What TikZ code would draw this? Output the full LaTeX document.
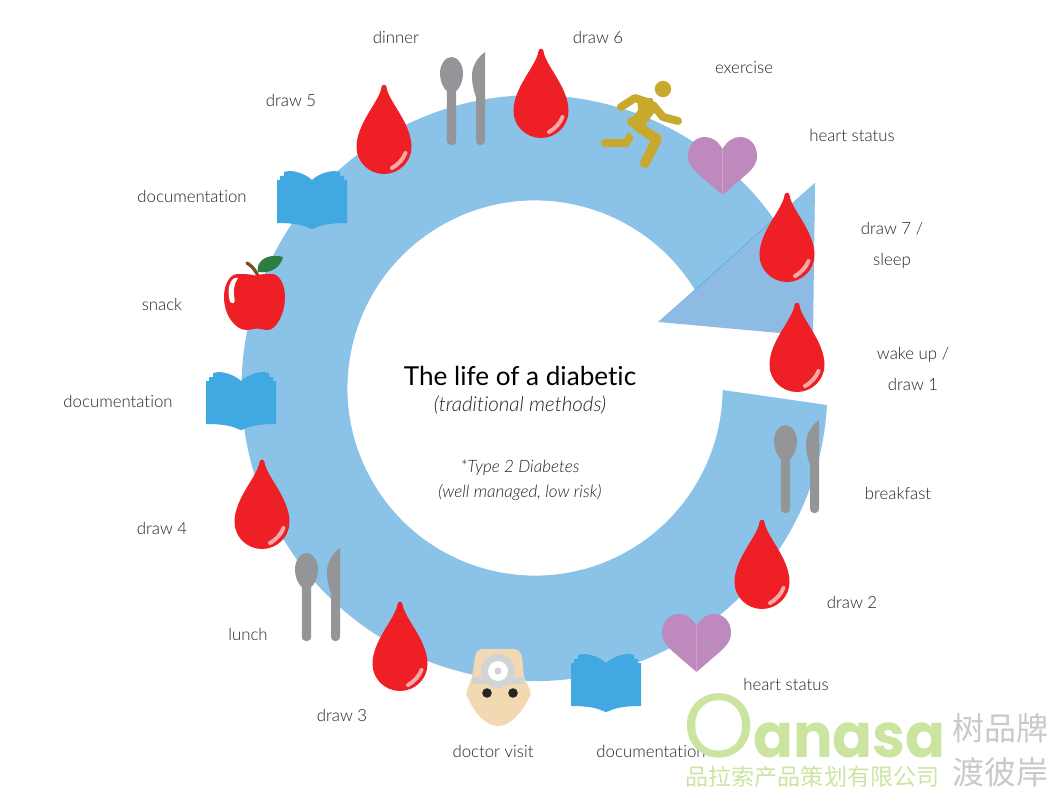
\documentclass[tikz,border=0pt]{standalone}
\usepackage{fontspec}
\setmainfont{Lato}[UprightFont=* Light,ItalicFont=* Light Italic,Ligatures=NoCommon]
\newfontfamily\titlefont{Lato}[Ligatures=NoCommon]
\newfontfamily\logofont{Poppins}
\newfontfamily\cjkfont{Noto Sans CJK SC}
\definecolor{ringblue}{HTML}{8AC2E8}
\definecolor{headblue}{HTML}{8DBBE4}
\definecolor{seamblue}{HTML}{63B0E0}
\definecolor{dropred}{HTML}{EE1F25}
\definecolor{shinered}{HTML}{F6A9AB}
\definecolor{heartpink}{HTML}{BE89BC}
\definecolor{heartseam}{HTML}{CDA3CC}
\definecolor{bookblue}{HTML}{41A9E1}
\definecolor{cutlerygrey}{HTML}{939598}
\definecolor{runnergold}{HTML}{C9A92D}
\definecolor{facetan}{HTML}{F3D9B1}
\definecolor{mirrorgrey}{HTML}{D1D3D4}
\definecolor{leafgreen}{HTML}{2B7E3F}
\definecolor{stembrown}{HTML}{7B4F1E}
\definecolor{logogreen}{HTML}{CBE5A0}
\definecolor{logogrey}{HTML}{C9C9C9}
\definecolor{labelgrey}{HTML}{222222}
\tikzset{
  lbl/.style={text=labelgrey,font=\fontsize{12.6}{23}\selectfont,align=center,inner sep=0pt},
  blooddrop/.pic={
    \fill[dropred] (-2.5,2) .. controls (-4,16) and (-27.5,38) .. (-27.5,62)
      .. controls (-27.5,77) and (-15,89) .. (0,89)
      .. controls (15,89) and (27.5,77) .. (27.5,62)
      .. controls (27.5,38) and (4,16) .. (2.5,2)
      .. controls (2,-1) and (-2,-1) .. cycle;
    \draw[shinered,line width=3pt,line cap=round] (21.5,68) .. controls (19,74) and (15,79) .. (8,83);
  },
  hearticon/.pic={
    \fill[heartpink] (34.5,12) .. controls (30,4) and (24,0) .. (17,0)
      .. controls (7,0) and (0,8) .. (0,19) .. controls (0,27) and (5,32) .. (9,36)
      -- (34.5,58) -- (60,36) .. controls (64,32) and (69,27) .. (69,19)
      .. controls (69,8) and (62,0) .. (52,0) .. controls (45,0) and (39,4) .. (34.5,12) -- cycle;
    \draw[heartseam,line width=0.4pt] (34.5,12) -- (34.5,58);
  },
  bookicon/.pic={
    \fill[bookblue] (0,52) -- (0,9) -- (3,9) -- (3,5) -- (7,5) -- (7,1) -- (12,0)
      .. controls (20,0) and (30,4) .. (35,9) .. controls (40,4) and (50,0) .. (58,0)
      -- (63,1) -- (63,5) -- (67,5) -- (67,9) -- (70,9) -- (70,52)
      .. controls (58,52) and (46,53) .. (38,57) -- (35,58) -- (32,57)
      .. controls (24,53) and (12,52) .. (0,52) -- cycle;
  },
  cutlery/.pic={
    \fill[cutlerygrey] (10.5,5) .. controls (17,5) and (22,13) .. (22,21)
      .. controls (22,30) and (18,37) .. (15.2,39) -- (15.2,88)
      .. controls (15.2,95) and (5.8,95) .. (5.8,88) -- (5.8,39)
      .. controls (3,37) and (-1,30) .. (-1,21) .. controls (-1,13) and (4,5) .. (10.5,5) -- cycle;
    \fill[cutlerygrey] (44,0) .. controls (36,6) and (31,14) .. (31,24)
      .. controls (31,32) and (33,40) .. (35,45) -- (35,88)
      .. controls (35,95) and (44,95) .. (44,88) -- cycle;
  }
}
\begin{document}
\begin{tikzpicture}[x=0.75pt,y=-0.75pt]
  \useasboundingbox (0,0) rectangle (1050,788);
  % ring and arrow head
  \coordinate (headtop) at (815,183);
  \coordinate (headtip) at (658,322);
  \coordinate (headlow) at (813,336);
  \fill[ringblue] (827,405) arc[start angle=3.3,end angle=325,radius=293] -- (695,290)
    arc[start angle=328.5,end angle=0.6,radius=187.6] -- cycle;
  \fill[headblue] (headtop) -- (headtip) -- (headlow) -- cycle;
  \fill[ringblue] (773,220) -- (headtop) -- (813,260) -- cycle;
  \draw[seamblue,line width=0.6pt] (695,290) -- (773,220);
  % drops
  \foreach \x/\y in {384/85,541/49,787/193,797/303,762/520,400/602,262/460}
    \pic at (\x,\y) {blooddrop};
  % hearts, books, cutlery
  \foreach \x/\y in {688/137,662/614}
    \pic at (\x,\y) {hearticon};
  \foreach \x/\y in {277/171,206/372,571/654}
    \pic at (\x,\y) {bookicon};
  \foreach \x/\y in {441/52,775/420,296/548}
    \pic at (\x,\y) {cutlery};
  % runner
  \fill[runnergold] (663,89) circle (8.2);
  \begin{scope}[runnergold,line cap=round,line join=round]
    \draw[line width=11pt,line cap=butt] (650,106) -- (637,124);
    \draw[line width=6pt] (621,107) -- (635,98) -- (650,103);
    \draw[line width=6pt] (653,105) -- (663,117) -- (678,121);
    \draw[line width=7.5pt] (637,126) -- (657,139) -- (645,163);
    \draw[line width=6pt] (605,143) -- (626,143);
    \fill (624,139) -- (628,132) -- (634,138) -- (627,148) -- cycle;
    \fill (637,99) -- (652,98) -- (656,108) -- (640,125) -- cycle;
    \fill (632,122) circle (5);
  \end{scope}
  % apple
  \draw[stembrown,line width=2.5pt,line cap=round] (247,263) .. controls (252,266) and (256,271) .. (258,276);
  \fill[leafgreen] (258,272) .. controls (256,263) and (264,256) .. (274,256)
    .. controls (278,256) and (281,256) .. (283,257)
    .. controls (281,266) and (272,274) .. (258,272) -- cycle;
  \fill[dropred] (255,275.5) .. controls (250,274) and (243,274) .. (238,274)
    .. controls (230,274) and (224,284) .. (224,297)
    .. controls (224,316) and (236,330) .. (246,330) .. controls (251,330) and (254,328.5) .. (257,328.5)
    .. controls (260,328.5) and (263,330) .. (268,330) .. controls (276,330) and (285,314) .. (285,297)
    .. controls (285,284) and (279,274) .. (272,274)
    .. controls (266,274) and (260,274) .. (255,275.5) -- cycle;
  \fill[white] (238,278) .. controls (231,276) and (226,288) .. (230,302)
    .. controls (234,305) and (235,302) .. (234.5,299) .. controls (233,290) and (234,284) .. (238,278) -- cycle;
  % doctor
  \fill[facetan] (483,649) -- (513,649) .. controls (518,649) and (521,652) .. (522,657)
    -- (524,677) -- (530,690) .. controls (531,693) and (531,696) .. (529,698)
    .. controls (522,712) and (511,726) .. (498,726)
    .. controls (485,726) and (474,712) .. (468,698)
    .. controls (466,696) and (466,693) .. (467,690)
    -- (472,677) -- (475,657) .. controls (476,652) and (478,649) .. (483,649) -- cycle;
  \draw[mirrorgrey,line width=5pt] (472,680.5) -- (524,680.5);
  \fill[mirrorgrey] (498,671) circle (17);
  \fill[white] (498,671) circle (10);
  \fill[mirrorgrey] (498,671) circle (3.5);
  \fill[black!85] (487,693) circle (4.8);
  \fill[black!85] (513,693) circle (4.8);
  % labels
  \node[lbl] (dinnerlbl) at (396,37) {dinner};
  \node[lbl] (drawsixlbl) at (598,37) {draw 6};
  \node[lbl] (exerciselbl) at (744,68) {exercise};
  \node[lbl] (drawfivelbl) at (291,100) {draw 5};
  \node[lbl] (heartalbl) at (852,135) {heart status};
  \node[lbl] (docalbl) at (192,196) {documentation};
  \node[lbl] (drawsevenlbl) at (892,245.5) {draw 7 /\\sleep};
  \node[lbl] (snacklbl) at (162,304) {snack};
  \node[lbl] (wakelbl) at (913,369) {wake up /\\draw 1};
  \node[lbl] (docblbl) at (118,401) {documentation};
  \node[lbl] (breakfastlbl) at (898,493) {breakfast};
  \node[lbl] (drawfourlbl) at (162,528) {draw 4};
  \node[lbl] (drawtwolbl) at (852,602) {draw 2};
  \node[lbl] (lunchlbl) at (248,634) {lunch};
  \node[lbl] (heartblbl) at (786,684) {heart status};
  \node[lbl] (drawthreelbl) at (342,715) {draw 3};
  \node[lbl] (doctorlbl) at (493,751) {doctor visit};
  \node[lbl] (docclbl) at (651,751) {documentation};
  % centre text
  \node[inner sep=0pt,font=\titlefont\fontsize{19.6}{24}\selectfont,text=black] (titletxt) at (520,376) {The life of a diabetic};
  \node[lbl,font=\fontsize{15.4}{17}\itshape\selectfont] (subtxt) at (520,405) {(traditional methods)};
  \node[lbl,font=\fontsize{12.8}{18.7}\itshape\selectfont] (typetxt) at (520,480.5) {*Type 2 Diabetes\\(well managed, low risk)};
  % logo
  \node[inner sep=0pt,text=logogreen,anchor=base west,font=\logofont] (logotxt) at (683,757)
    {\fontsize{68}{68}\selectfont O\hspace{-1pt}\scalebox{0.96}[1]{\fontsize{46}{46}\bfseries\selectfont anasa}};
  \node[inner sep=0pt,text=logogreen,font=\cjkfont\fontsize{17.3}{20}\selectfont] (logocn) at (812.5,777) {品拉索产品策划有限公司};
  \node[inner sep=0pt,text=logogrey,font=\cjkfont\fontsize{24}{33}\selectfont,align=left] (logoside) at (1000,750) {树品牌\\渡彼岸};
\end{tikzpicture}
\end{document}
